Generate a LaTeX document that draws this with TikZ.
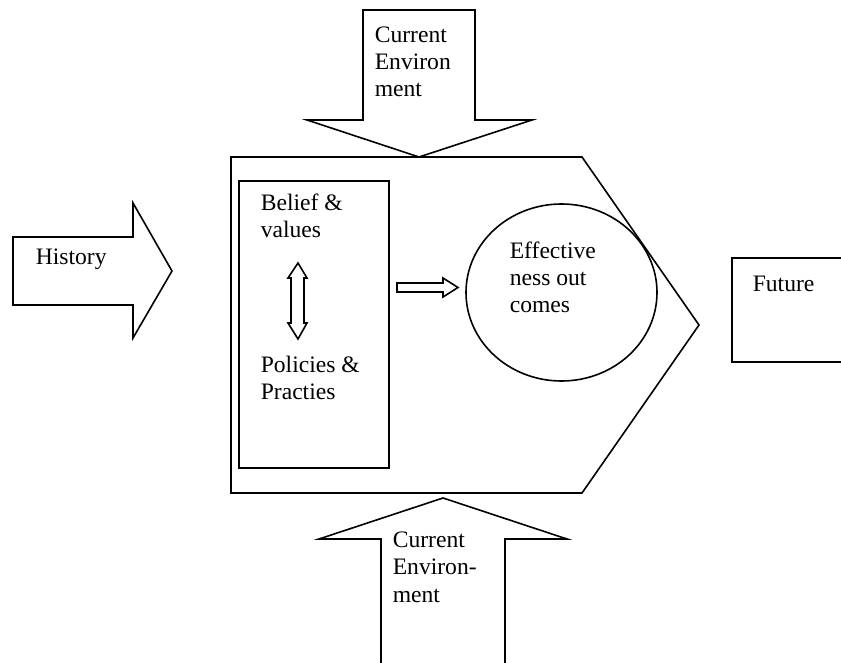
\documentclass[tikz,border=0pt]{standalone}
\usepackage{fontspec}
\setmainfont{Liberation Serif}
\begin{document}
\begin{tikzpicture}[x=0.5pt,y=-0.5pt,line width=.8pt,
  lbl/.style={anchor=base west,inner sep=0pt,align=left,font=\fontsize{11.8}{13.7}\selectfont}]
\useasboundingbox (0,0) rectangle (841,663);
\clip (0,0) rectangle (841,663);
% organisation
\draw (231,157)--(582,157)--(699,325)--(582,493)--(231,493)--cycle;
\draw (239,181) rectangle (389,468);
\draw (561.5,292.5) ellipse [x radius=47.75pt, y radius=44.25pt];
\draw (732,258) rectangle (880,362);
% block arrows
\draw (363,10)--(475,10)--(475,120)--(532,120)--(419,157)--(307,120)--(363,120)--cycle;
\draw (13,237)--(133,237)--(133,203)--(172,271)--(133,338)--(133,305)--(13,305)--cycle;
\draw (381,700)--(381,539)--(319,539)--(443,498)--(567,539)--(505,539)--(505,700);
\draw (298,263)--(307,278)--(304,278)--(304,323)--(307,323)--(298,339)--(288,323)--(291,323)--(291,278)--(288,278)--cycle;
\draw (397,283)--(443,283)--(443,278)--(458,287.5)--(443,297)--(443,292)--(397,292)--cycle;
% labels (base = last line)
\node[lbl] (curtop) at (374,97) {Current\\Environ\\ment};
\node[lbl] (hist) at (35,265) {History};
\node[lbl] (belief) at (260,238) {Belief \&\\values};
\node[lbl] (policy) at (260,400) {Policies \&\\Practies};
\node[lbl] (effect) at (509,313) {Effective\\ness out\\comes};
\node[lbl] (future) at (752,292) {Future};
\node[lbl] (curbot) at (392,602) {Current\\Environ-\\ment};
\end{tikzpicture}
\end{document}
